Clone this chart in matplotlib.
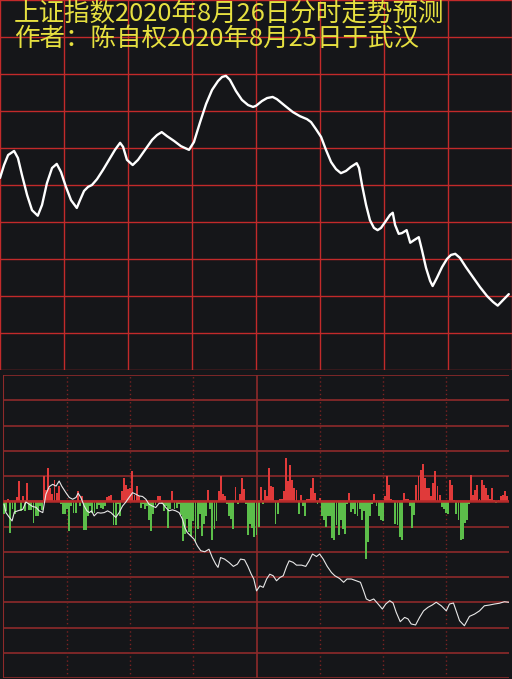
import matplotlib
matplotlib.use("Agg")
import matplotlib.pyplot as plt

plt.rcParams['font.family'] = ['Noto Sans CJK SC', 'DejaVu Sans']

# --- forecast curve (minute of session, index level) ---
price_t = [0, 1.9, 3.8, 6.6, 8.4, 10.3, 12.7, 15, 17.7, 19.7, 22, 24.4, 26.6, 28.6, 30.9, 33.3,
           36, 37.5, 39.4, 41.3, 43.1, 45.5, 48.3, 51.1, 53.9, 56.3, 57.7, 59.5, 62.2, 64.7, 68,
           71.3, 73.6, 75.8, 78.3, 81.6, 84.8, 88.6, 90.9, 93.8, 96.6, 99.4, 102.2, 104.1, 105.9,
           107.8, 110.6, 113.4, 116.3, 118.6, 120, 122.8, 125.2, 127.8, 129.8, 133.6, 137.3,
           140.6, 143.9, 145.8, 148.1, 150.5, 152.8, 155.2, 157.5, 159.8, 162.2, 164.5, 167.2,
           168.3, 169.7, 171.6, 173.4, 175.3, 177, 178.6, 180.9, 182.8, 184.1, 185.2, 186.9,
           188.4, 190.6, 192.3, 194.1, 196.3, 197.8, 199.7, 201.6, 202.8, 204.8, 207.2, 209.5,
           211.4, 213.4, 215.6, 218.4, 221.7, 225, 228.3, 231.1, 233.3, 235.8, 238.5]
price_v = [3371.9, 3375.4, 3378.1, 3379.2, 3377.3, 3372.7, 3367.3, 3363.2, 3361.7, 3364.6,
           3370.5, 3374.6, 3375.7, 3373.5, 3369.5, 3365.9, 3363.8, 3365.9, 3368.4, 3369.5,
           3370.0, 3371.6, 3374.1, 3376.8, 3379.5, 3381.4, 3380.3, 3376.8, 3375.4, 3376.8,
           3379.5, 3382.2, 3383.5, 3384.3, 3383.2, 3381.9, 3380.5, 3379.5, 3381.6, 3387.0,
           3391.9, 3395.7, 3398.1, 3399.2, 3399.5, 3398.4, 3395.4, 3393.0, 3391.6, 3391.1,
           3391.4, 3392.7, 3393.5, 3393.8, 3393.2, 3391.4, 3389.7, 3388.6, 3387.8, 3387.0,
           3385.1, 3383.0, 3379.5, 3376.2, 3374.3, 3373.2, 3373.8, 3374.9, 3375.9, 3374.6,
           3370.0, 3364.6, 3360.5, 3358.4, 3357.8, 3358.4, 3360.3, 3361.9, 3362.5, 3359.2,
           3356.8, 3357.0, 3357.8, 3354.4, 3355.1, 3355.9, 3352.4, 3347.6, 3344.1, 3342.7,
           3344.9, 3347.8, 3350.0, 3351.1, 3351.4, 3350.3, 3347.8, 3345.1, 3342.4, 3340.0,
           3338.4, 3337.4, 3338.9, 3340.5]

# --- per-minute bars (red up / green down) ---
bars = [
    -0.5, -0.4, 0.07, -1.27, -0.3, -0.5, 0.16, 0.8, -0.4, 0.2,
    -0.4, 0.72, -0.33, -0.35, -0.85, -0.6, -0.6, -0.2, -0.33, 1.0,
    0.46, 1.3, 0.53, 0.3, 0.85, 0.33, 0.6, -0.1, -0.5, -0.5,
    -0.3, -1.17, -0.2, -0.45, -0.45, 0.4, -0.2, 0.2, -1.15, -1.15,
    -0.6, -0.2, -0.45, -0.45, -0.3, -0.15, -0.25, -0.3, -0.2, 0.16,
    0.2, 0.24, -0.95, -0.95, -0.1, -0.6, 0.4, 0.92, 0.66, 0.5,
    0.53, 1.18, 0.26, 0.6, 0.2, -0.25, -0.1, -0.3, -0.2, -0.75,
    -1.17, -0.5, -0.15, 0.2, 0.2, -0.1, -0.4, -0.2, -1.04, -0.3,
    0.4, -0.3, -0.25, -0.1, -0.55, -1.56, -1.3, -0.7, -1.2, -1.36,
    -0.8, -1.6, -1.1, -0.5, -1.36, -0.9, -0.6, 0.46, -0.3, -1.55,
    -1.08, -0.8, 0.4, 1.0, 0.27, 0.2, -0.1, -0.6, -0.7, -1.1,
    0.55, -0.1, 0.3, 0.92, 0.5, -0.1, -1.34, -0.9, -1.07, -1.4,
    -1.34, -1.0, 0.55, -0.1, 0.46, 0.2, 1.32, 0.6, 0.55, -0.9,
    -0.5, 0.07, 0.1, 0.42, 1.7, 0.8, 1.45, 0.85, 0.53, 0.46,
    -0.5, 0.24, -0.2, -0.6, 0.07, 0.1, 0.53, 0.92, 0.33, -0.1,
    0.13, -0.6, -0.75, -1.0, -0.6, -0.6, -1.47, -1.55, -0.95, -1.34,
    -0.75, -1.08, -1.28, -0.1, 0.33, -0.42, -0.3, -0.5, -0.6, -0.3,
    -0.75, -0.4, -2.3, -1.6, -0.6, -0.1, 0.3, -0.2, -0.6, -0.75,
    -0.8, 0.2, 1.0, 0.66, 0.1, 0.05, -0.9, -0.95, -1.4, -1.55,
    0.33, 0.1, 0.07, -0.2, -1.07, -0.55, 0.66, 1.0, 1.25, 1.47,
    0.92, 0.53, 0.53, 0.2, 0.72, 1.18, 0.6, 0.24, -0.22, -0.3,
    -0.46, -0.5, 0.85, 0.66, 0.05, -0.5, -0.75, -1.55, -1.48, -0.88,
    -0.75, -0.1, 1.03, 0.26, 0.46, 0.66, 0.1, 0.85, 0.66, 0.53,
    0.26, 0.1, 0.53, 0.05, -0.07, 0.05, 0.2, 0.26, 0.4, 0.2,
]

# --- cumulative line in lower panel ---
line_t = [0, 0.9, 2.0, 3.8, 4.9, 6.5, 8.9, 10.4, 12.0, 13.6, 15.2, 16.7, 18.4, 19.1, 19.9,
          21.5, 23.1, 24.7, 26.2, 27.4, 29.4, 31.0, 32.6, 34.2, 35.2, 36.5, 38.1, 39.4, 40.5,
          41.6, 42.8, 44.4, 46.0, 47.6, 49.2, 50.8, 53.1, 54.7, 56.3, 57.9, 59.4, 61.1, 62.6,
          64.2, 65.8, 67.4, 68.9, 70.5, 72.1, 73.7, 75.3, 76.9, 78.4, 80.0, 81.6, 83.2, 84.8,
          85.9, 87.1, 88.7, 90.3, 91.9, 93.5, 95.4, 97.4, 99.0, 100.6, 101.7, 102.9, 104.8,
          106.9, 109.0, 110.9, 112.4, 114.3, 115.9, 117.5, 118.7, 120.0, 121.6, 123.2, 124.8,
          126.3, 127.9, 129.5, 131.1, 132.7, 134.3, 135.5, 137.4, 139.0, 141.4, 143.4, 145.0,
          146.6, 148.5, 150.0, 151.7, 153.6, 155.6, 157.2, 159.5, 161.4, 163.0, 165.1, 167.5,
          169.4, 170.9, 172.2, 173.8, 175.7, 177.8, 179.8, 181.4, 183.3, 184.9, 186.4, 188.3,
          190.4, 192.0, 193.5, 195.6, 197.5, 199.4, 201.5, 203.5, 205.4, 207.8, 210.2, 211.7,
          213.6, 214.9, 216.5, 218.8, 221.2, 223.6, 226.0, 228.3, 230.7, 233.1, 235.4, 237.8,
          239.9]
line_v = [-0.12, -0.45, -0.58, -0.78, -0.43, -0.38, -0.32, -0.03, -0.12, -0.21, -0.24, -0.38,
          -0.45, -0.12, 0.28, 0.58, 0.67, 0.60, 0.80, 0.60, 0.34, 0.15, 0.08, 0.15, 0.32, 0.15,
          -0.19, -0.38, -0.45, -0.38, -0.58, -0.45, -0.47, -0.45, -0.38, -0.45, -0.64, -0.45,
          -0.19, -0.03, 0.15, 0.34, 0.28, 0.21, 0.19, 0.08, -0.12, -0.19, -0.25, -0.08, -0.08,
          -0.25, -0.38, -0.34, -0.38, -0.45, -0.71, -1.04, -1.24, -1.37, -1.50, -1.77, -1.96,
          -2.00, -1.90, -2.23, -2.49, -2.62, -2.23, -2.29, -2.42, -2.58, -2.49, -2.29, -2.32,
          -2.58, -2.89, -3.08, -3.55, -3.35, -3.41, -3.08, -2.89, -2.95, -3.15, -3.02, -2.95,
          -2.58, -2.36, -2.42, -2.53, -2.53, -2.58, -2.36, -2.09, -2.19, -2.09, -2.29, -2.58,
          -2.82, -2.95, -3.06, -3.21, -3.08, -3.08, -3.15, -3.21, -3.55, -3.87, -3.94, -3.87,
          -4.07, -4.27, -4.07, -3.94, -4.03, -4.40, -4.77, -4.60, -4.66, -4.86, -4.90, -4.60,
          -4.34, -4.20, -4.11, -4.00, -4.14, -4.34, -4.07, -4.03, -4.34, -4.73, -4.93, -4.56,
          -4.47, -4.34, -4.14, -4.11, -4.07, -4.04, -3.98, -4.00]

title1 = "上证指数2020年8月26日分时走势预测"
title2 = "作者：陈自权2020年8月25日于武汉"

BG = '#151619'
GRID_TOP = '#c22a2a'
GRID_BOT = '#8e2a2a'
RED = '#e03a3a'
GREEN = '#5cbe4a'
YELLOW = '#e6e040'

W, H = 512, 679
fig = plt.figure(figsize=(W / 100, H / 100), dpi=100, facecolor=BG)

# upper panel
ax1 = fig.add_axes([0, (H - 370) / H, 1, 370 / H], facecolor=BG)
ax1.plot(price_t, price_v, color='white', lw=1.7, solid_capstyle='round', zorder=3)
ax1.set_xlim(0, 240)
ax1.set_ylim(3320, 3420)
ax1.set_xticks(range(0, 241, 30))
ax1.set_yticks(range(3320, 3421, 10))
ax1.grid(True, color=GRID_TOP, lw=1.0)
ax1.tick_params(length=0, labelbottom=False, labelleft=False)
for s in ax1.spines.values():
    s.set_visible(False)

# lower panel
ax2 = fig.add_axes([3 / W, 1 / H, 506 / W, 303 / H], facecolor=BG)
ax2.set_xlim(-0.5, 240)
ax2.set_ylim(-7, 5)
ax2.set_yticks(range(-7, 6))
ax2.set_xticks([])
ax2.yaxis.grid(True, color=GRID_BOT, lw=1.2)
ax2.tick_params(length=0, labelbottom=False, labelleft=False)
for s in ax2.spines.values():
    s.set_visible(False)
ax2.axvline(-0.5, color=GRID_BOT, lw=1.5)
for m in [30, 60, 90, 150, 180, 210]:
    ax2.axvline(m, color='#7a2222', lw=1.0, ls=(0, (1, 2)))
ax2.axvline(120, color=GRID_BOT, lw=1.2)

minutes = list(range(len(bars)))
colors = [RED if b > 0 else GREEN for b in bars]
ax2.bar(minutes, bars, width=0.9, color=colors, linewidth=0, antialiased=False, zorder=2)
ax2.axhline(0, color='#b52a2a', lw=1.8, zorder=2.5)
ax2.plot(line_t, line_v, color='#e8e8e8', lw=0.8, zorder=3)

fig.text(14 / W, 1 - 15 / H, title1, color=YELLOW, fontsize=18.4, va='center', ha='left')
fig.text(14 / W, 1 - 39 / H, title2, color=YELLOW, fontsize=18.4, va='center', ha='left')

fig.savefig('out.png', dpi=100, facecolor=BG)
